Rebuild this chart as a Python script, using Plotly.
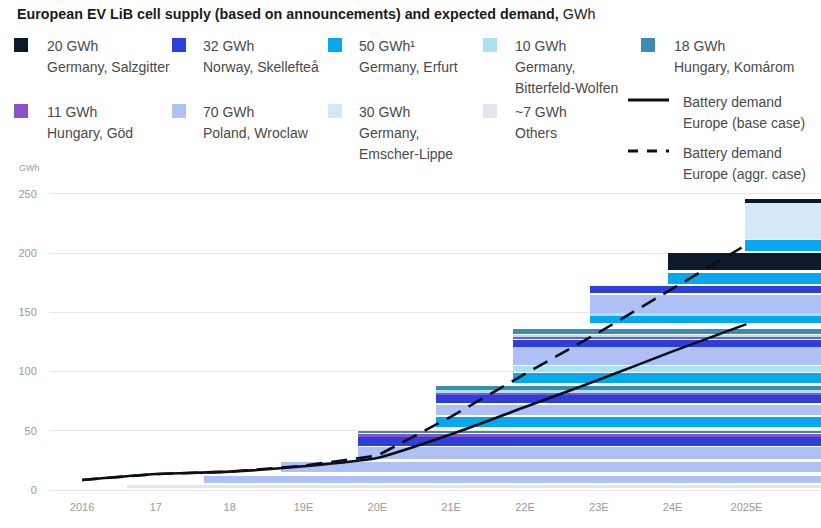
import plotly.graph_objects as go

# ---------------- data ----------------
years = ["2016", "17", "18", "19E", "20E", "21E", "22E", "23E", "24E", "2025E"]
demand_base = [8.5, 13.5, 15.5, 20, 27, 47, 70, 93, 117, 140]
demand_aggr = [8.5, 13.5, 15.5, 20.5, 29, 62, 98, 133, 170, 207]

plants = ["Salzgitter", "Skelleftea", "Erfurt", "Bitterfeld", "Komarom", "God", "Wroclaw", "Emscher", "Others"]
plant_colors = ["#0c1b2a", "#2b3fdc", "#06a8ee", "#a9e3f1", "#3a8db0", "#8a54c8", "#aec0f5", "#d4e8f7", "#e2e5ee"]
legend_values = ["20 GWh", "32 GWh", "50 GWh¹", "10 GWh", "18 GWh", "11 GWh", "70 GWh", "30 GWh", "~7 GWh"]
legend_sites = ["Germany, Salzgitter", "Norway, Skellefteå", "Germany, Erfurt", "Germany,\nBitterfeld-Wolfen",
                "Hungary, Komárom", "Hungary, Göd", "Poland, Wroclaw", "Germany,\nEmscher-Lippe", "Others"]

# capacity bands: start (on year axis), plant, low GWh, high GWh  (each runs to the horizon)
horizon = 10.1
band_start = [0.61, 1.65, 2.70,
              3.74, 3.74, 3.74, 3.74, 3.74,
              4.80, 4.80, 4.80, 4.80, 4.80, 4.80,
              5.84, 5.84, 5.84, 5.84, 5.84, 5.84, 5.84,
              6.88, 6.88, 6.88, 6.88,
              7.94, 7.94,
              8.98, 8.98, 8.98]
band_plant = ["Others", "Wroclaw", "Wroclaw",
              "Wroclaw", "Skelleftea", "Bitterfeld", "God", "Komarom",
              "Erfurt", "Wroclaw", "Skelleftea", "God", "Bitterfeld", "Komarom",
              "Erfurt", "Bitterfeld", "Wroclaw", "Skelleftea", "God", "Bitterfeld", "Komarom",
              "Erfurt", "Bitterfeld", "Wroclaw", "Skelleftea",
              "Erfurt", "Salzgitter",
              "Erfurt", "Emscher", "Salzgitter"]
band_low = [2.5, 5.5, 15.5,
            26.5, 37.5, 45, 45.5, 48,
            53.5, 63, 73.5, 80.5, 82.5, 84.5,
            90, 99.5, 105.5, 121, 127.5, 129.5, 131.5,
            141, 147.5, 149, 166,
            174, 186,
            202, 211.5, 242.5]
band_high = [4, 12, 24,
             36, 44.5, 46.5, 47, 50,
             62, 72, 80, 82, 84, 88,
             99, 105, 120.5, 127, 129, 131, 136,
             147.5, 149, 165, 172.5,
             183, 200,
             211, 242, 246]

# ---------------- figure ----------------
W, H = 821, 528
L, R, T, B = 50, 0, 182, 38
PW, PH = W - L - R, H - T - B


def px(x):
    return (x - L) / PW


def py(y):
    return (H - B - y) / PH


fig = go.Figure()

for p, c in zip(plants, plant_colors):
    idx = [i for i, bp in enumerate(band_plant) if bp == p]
    if not idx:
        continue
    fig.add_trace(go.Bar(
        orientation="h",
        base=[band_start[i] for i in idx],
        x=[horizon - band_start[i] for i in idx],
        y=[(band_low[i] + band_high[i]) / 2 for i in idx],
        width=[band_high[i] - band_low[i] for i in idx],
        marker=dict(color=c, line=dict(width=0)),
        showlegend=False, hoverinfo="skip",
    ))

xs = list(range(len(years)))
fig.add_trace(go.Scatter(x=xs, y=demand_aggr, mode="lines",
                         line=dict(color="#0a0f18", width=2.6, dash="16px,9px"),
                         showlegend=False))
fig.add_trace(go.Scatter(x=xs, y=demand_base, mode="lines", line_shape="spline",
                         line=dict(color="#0a0f18", width=2.6, smoothing=0.5),
                         showlegend=False))

ann = []
shapes = []
FONT = "Liberation Sans, Arial, sans-serif"
ann.append(dict(x=px(15), y=py(14), xref="paper", yref="paper", xanchor="left", yanchor="middle",
                text="<b>European EV LiB cell supply (based on announcements) and expected demand,</b> GWh",
                showarrow=False, font=dict(size=14.3, color="#1a1a1a", family=FONT)))
ann.append(dict(x=px(17), y=py(168), xref="paper", yref="paper", xanchor="left", yanchor="middle",
                text="GWh", showarrow=False, font=dict(size=9, color="#9a9a9a", family=FONT)))

sq_x = [14, 172, 328, 483, 641]
tx_x = [45, 201, 357, 513, 672]
row_y = [46, 112]
LEG = 14
for k in range(len(legend_values)):
    col, row = k % 5, k // 5
    ytop = row_y[row] - 8
    shapes.append(dict(type="rect", xref="paper", yref="paper",
                       x0=px(sq_x[col]), x1=px(sq_x[col] + 14), y0=py(ytop), y1=py(ytop + 14),
                       fillcolor=plant_colors[k], line=dict(width=0)))
    lines = [legend_values[k]] + legend_sites[k].split("\n")
    for j, t in enumerate(lines):
        ann.append(dict(x=px(tx_x[col]), y=py(row_y[row] + 21 * j), xref="paper", yref="paper",
                        xanchor="left", yanchor="middle", text=t, showarrow=False,
                        font=dict(size=LEG, color="#4a4a4a", family=FONT)))

for yy, dash, lab in [(100, "solid", "Europe (base case)"), (151, "10px,9px", "Europe (aggr. case)")]:
    shapes.append(dict(type="line", xref="paper", yref="paper", x0=px(628), x1=px(669), y0=py(yy), y1=py(yy),
                       line=dict(color="#0a0f18", width=3, dash=dash)))
    ann.append(dict(x=px(681), y=py(yy + 2), xref="paper", yref="paper", xanchor="left", yanchor="middle",
                    text="Battery demand", showarrow=False, font=dict(size=LEG, color="#4a4a4a", family=FONT)))
    ann.append(dict(x=px(681), y=py(yy + 23), xref="paper", yref="paper", xanchor="left", yanchor="middle",
                    text=lab, showarrow=False, font=dict(size=LEG, color="#4a4a4a", family=FONT)))

fig.update_layout(
    width=W, height=H, margin=dict(l=L, r=R, t=T, b=B),
    paper_bgcolor="white", plot_bgcolor="white",
    barmode="overlay", bargap=0,
    annotations=ann, shapes=shapes,
    font=dict(family=FONT),
    xaxis=dict(range=[-0.434, 10.01], tickvals=xs, ticktext=years, showgrid=False, zeroline=False,
               ticks="outside", ticklen=7, tickcolor="rgba(0,0,0,0)",
               tickfont=dict(size=11, color="#9a9a9a"), showline=False, fixedrange=True),
    yaxis=dict(range=[0, 260], dtick=50, showgrid=True, gridcolor="#e6e6e6", gridwidth=1.2,
               zeroline=True, zerolinecolor="#e3e3e3", zerolinewidth=1.2,
               ticks="outside", ticklen=10, tickcolor="rgba(0,0,0,0)",
               tickfont=dict(size=11, color="#9a9a9a"), showline=False),
)

fig.write_html("out.html")
